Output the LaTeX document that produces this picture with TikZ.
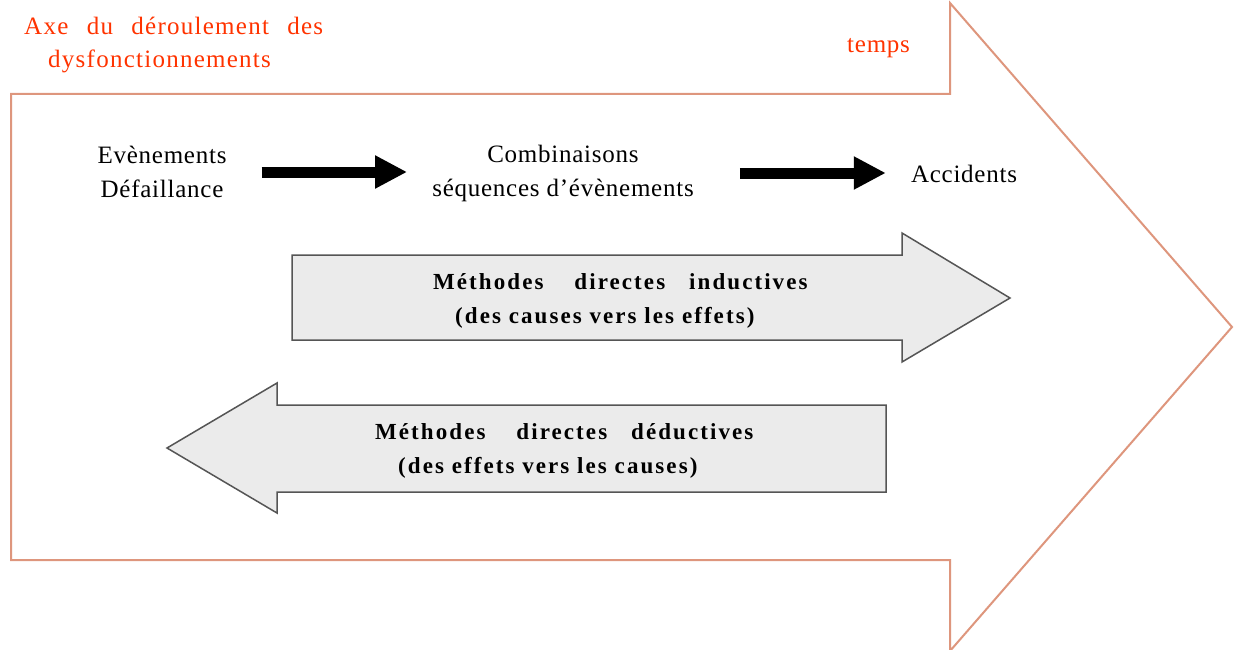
\documentclass[tikz,border=0pt]{standalone}
\usepackage{fontspec}
\setmainfont{Liberation Serif}
\newfontfamily\regfont[LetterSpace=3]{Liberation Serif}
\newfontfamily\redfont[LetterSpace=5]{Liberation Serif}
\newfontfamily\bfam[LetterSpace=9]{Liberation Serif}
\usetikzlibrary{arrows.meta}
\definecolor{axered}{RGB}{255,51,0}
\definecolor{axeline}{RGB}{222,150,125}
\definecolor{grayfill}{RGB}{235,235,235}
\definecolor{grayline}{RGB}{85,85,85}
\tikzset{
  bigarrow/.style={draw=axeline, line width=2pt, line join=miter, fill=white},
  methbox/.style={draw=grayline, line width=1.5pt, fill=grayfill, line join=miter},
  redtxt/.style={text=axered, font=\redfont\fontsize{25}{30}\selectfont, inner sep=0pt, anchor=base west},
  evtxt/.style={font=\regfont\fontsize{25}{34}\selectfont, inner sep=0pt, align=center},
  methtxt/.style={font=\bfam\bfseries\fontsize{23}{28}\selectfont, inner sep=0pt, anchor=base west},
  blk/.style={line width=11pt, -{Triangle[length=32pt,width=31pt]}}
}
\begin{document}
\begin{tikzpicture}[x=1pt,y=-1pt]
\useasboundingbox (0,0) rectangle (1234,650);
\clip (0,0) rectangle (1234,650);
% main axis arrow
\draw[bigarrow] (11,94) -- (950,94) -- (950,3) -- (1232,327) -- (950,651) -- (950,560) -- (11,560) -- cycle;
\node[redtxt] (axe1) at (24,35) {\makebox[299pt][s]{Axe du déroulement des}};
\node[redtxt] (axe2) at (48,68) {dysfonctionnements};
\node[redtxt, font=\regfont\fontsize{25}{30}\selectfont] (temps) at (847,53) {temps};
% events
\node[evtxt] (ev) at (162,172) {Evènements\\Défaillance};
\node[evtxt] (comb) at (563,173) {Combinaisons\\séquences d’évènements};
\node[evtxt] (acc) at (964,174) {Accidents};
\draw[blk] ([xshift=35pt]ev.east) -- ([xshift=-25pt]ev.east -| comb.west);
\draw[blk] ([xshift=46pt]comb.east) -- ([xshift=-25pt]comb.east -| acc.west);
% inductive methods
\draw[methbox] (292,255) -- (902,255) -- (902,233) -- (1010,298) -- (902,362) -- (902,340) -- (292,340) -- cycle;
\node[methtxt] (ind1) at (433,289) {Méthodes\hspace{31pt}directes\hspace{24pt}inductives};
\node[methtxt] (ind2) at (455,323) {(des causes vers les effets)};
% deductive methods
\draw[methbox] (886,405) -- (277,405) -- (277,383) -- (167,448) -- (277,513) -- (277,492) -- (886,492) -- cycle;
\node[methtxt] (ded1) at (375,439) {Méthodes\hspace{31pt}directes\hspace{24pt}déductives};
\node[methtxt] (ded2) at (398,473) {(des effets vers les causes)};
\end{tikzpicture}
\end{document}
